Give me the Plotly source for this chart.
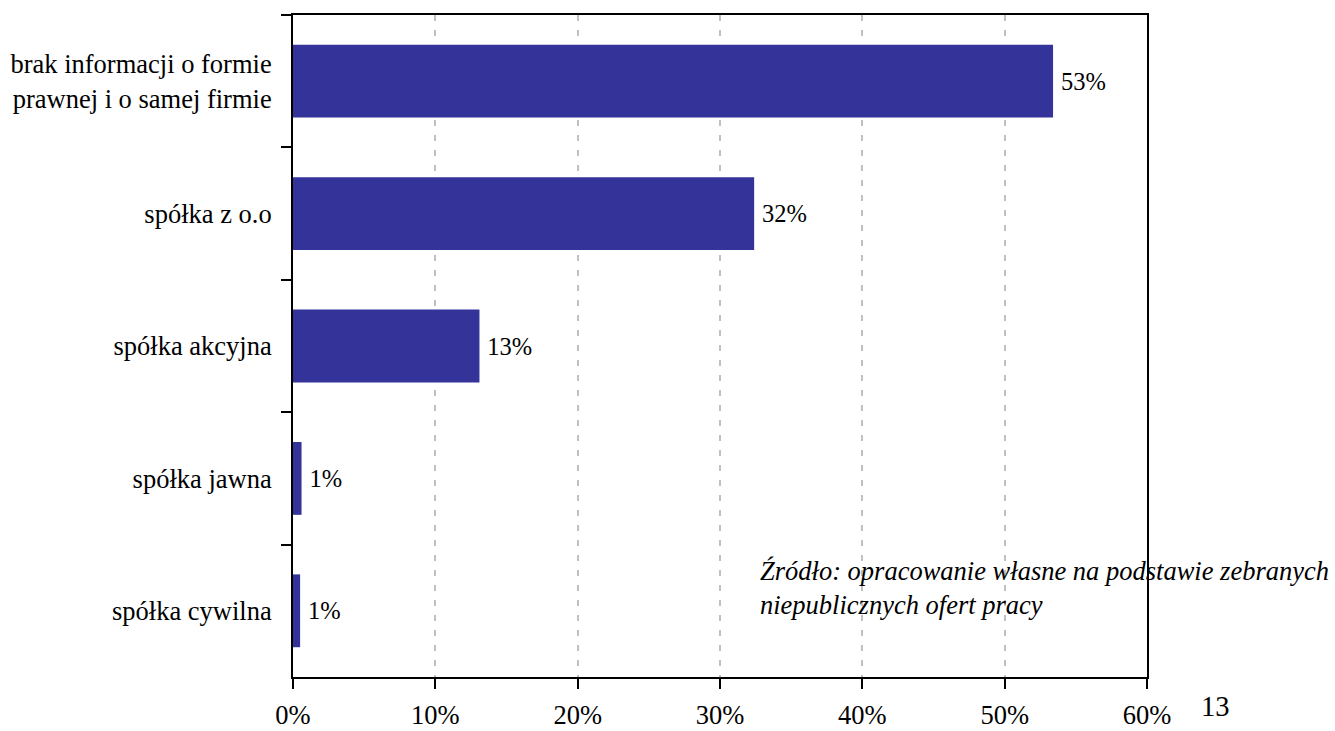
import plotly.graph_objects as go

categories = [
    "brak informacji o formie<br>prawnej i o samej firmie",
    "spółka z o.o",
    "spółka akcyjna",
    "spółka jawna",
    "spółka cywilna",
]
values = [53.4, 32.4, 13.1, 0.6, 0.5]
value_labels = ["53%", "32%", "13%", "1%", "1%"]
x_ticks = [0, 10, 20, 30, 40, 50, 60]
x_tick_labels = ["0%", "10%", "20%", "30%", "40%", "50%", "60%"]
source_note = "Źródło: opracowanie własne na podstawie zebranych<br>niepublicznych ofert pracy"
page_number = "13"

FONT = "Liberation Serif"

fig = go.Figure(
    go.Bar(
        x=values,
        y=categories,
        orientation="h",
        marker=dict(color="#333399", line=dict(width=0)),
        text=value_labels,
        texttemplate="\u2009%{text}",
        textposition="outside",
        textfont=dict(family=FONT, size=24.5, color="black"),
        cliponaxis=False,
    )
)

fig.update_layout(
    width=1335,
    height=731,
    margin=dict(l=293, r=188, t=15, b=54, autoexpand=False),
    paper_bgcolor="white",
    plot_bgcolor="white",
    font=dict(family=FONT, size=26.5, color="black"),
    bargap=0.45,
    showlegend=False,
)

fig.update_xaxes(
    range=[0, 60],
    tickvals=x_ticks,
    ticktext=x_tick_labels,
    ticks="outside",
    ticklen=10,
    tickwidth=2,
    tickcolor="black",
    showline=True,
    linecolor="black",
    linewidth=2,
    mirror=True,
    showgrid=True,
    gridcolor="#c0c0c0",
    gridwidth=2,
    griddash="6px,9px",
    zeroline=False,
    automargin=False,
    tickfont=dict(family=FONT, size=26.5, color="black"),
    ticklabelstandoff=3,
)

fig.update_yaxes(
    autorange="reversed",
    ticks="outside",
    tickson="boundaries",
    ticklen=10,
    tickwidth=2,
    tickcolor="black",
    showline=True,
    linecolor="black",
    linewidth=2,
    mirror=True,
    showgrid=False,
    automargin=False,
    tickfont=dict(family=FONT, size=26.5, color="black"),
    ticklabelstandoff=14,
)

fig.add_annotation(
    text=source_note,
    xref="paper", yref="paper",
    x=0.545, y=0.134,
    xanchor="left", yanchor="middle",
    align="left",
    showarrow=False,
    font=dict(family=FONT, size=26.5, color="black", style="italic"),
)

fig.add_annotation(
    text=page_number,
    xref="paper", yref="paper",
    x=1.08, y=-0.045,
    xanchor="center", yanchor="middle",
    showarrow=False,
    font=dict(family=FONT, size=28.5, color="black"),
)

fig.write_html(
    "out.html",
    config={"displayModeBar": False},
    post_script="document.body.style.margin='0';document.body.style.overflow='hidden';",
)
